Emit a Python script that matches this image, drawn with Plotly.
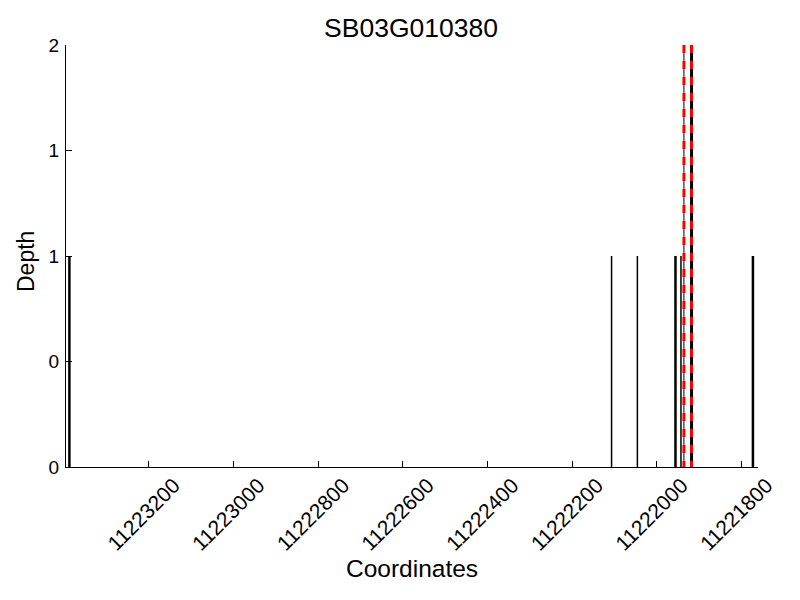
import plotly.graph_objects as go

# ---- data ----
title_text = "SB03G010380"
depth_coords = [11223388, 11222107, 11222046, 11221956, 11221943, 11221773]
depth_values = [1, 1, 1, 1, 1, 1]
thick_coords = [11223388, 11221956, 11221773]
marker_coords = [11221936, 11221918]
marker_top = 2
x_ticks = [11223200, 11223000, 11222800, 11222600, 11222400, 11222200, 11222000, 11221800]
y_ticks = [0, 0.5, 1, 1.5, 2]
y_tick_text = ["0", "0", "1", "1", "2"]
x_range = [11223396, 11221761]

FONT = "Liberation Sans, Arial, sans-serif"

# page has an 8px body margin; lay the figure out so that on-screen positions match
W, H = 792, 592
L, R, T, B = 58, 42, 37, 133
PH = H - T - B

fig = go.Figure()

# depth bars as vertical segments
for c, v in zip(depth_coords, depth_values):
    w = 2.5 if c in thick_coords else 1.5
    fig.add_trace(go.Scatter(x=[c, c], y=[0, v], mode="lines",
                             line=dict(color="black", width=w),
                             showlegend=False, hoverinfo="skip"))

# marker lines: black base with red dashes on top (drawn top-down so dashes start at top)
for i, c in enumerate(marker_coords):
    bw = 1 if i == 0 else 3
    fig.add_trace(go.Scatter(x=[c, c], y=[marker_top, 0], mode="lines",
                             line=dict(color="black", width=bw),
                             showlegend=False, hoverinfo="skip"))
    fig.add_trace(go.Scatter(x=[c, c], y=[marker_top, 0], mode="lines",
                             line=dict(color="red", width=3, dash="8px,8px"),
                             showlegend=False, hoverinfo="skip"))

fig.update_layout(
    width=W, height=H,
    margin=dict(l=L, r=R, t=T, b=B, autoexpand=False),
    paper_bgcolor="white", plot_bgcolor="white",
    font=dict(family=FONT, color="black"),
    title=dict(text=title_text, x=(411 - 8) / W, xanchor="center", y=1 - 20 / H,
               yanchor="middle", font=dict(size=26.5, family=FONT, color="black")),
)

fig.update_xaxes(
    range=x_range, tickvals=x_ticks, ticktext=[str(t) for t in x_ticks],
    tickangle=-45, ticks="inside", ticklen=6, tickcolor="black",
    showline=True, linecolor="black", linewidth=1, mirror=False,
    showgrid=False, zeroline=False, tickfont=dict(size=21, family=FONT),
    ticklabelshift=-25, ticklabelstandoff=-3, automargin=False,
)
fig.update_yaxes(
    range=[0, 2], tickvals=y_ticks, ticktext=y_tick_text,
    ticks="inside", ticklen=6, tickcolor="black",
    showline=True, linecolor="black", linewidth=1, mirror=False,
    showgrid=False, zeroline=False, tickfont=dict(size=19, family=FONT),
    ticklabelstandoff=2, automargin=False,
)

fig.add_annotation(text="Coordinates", xref="paper", yref="paper",
                   x=0.5, y=-(568 - 8 - (T + PH)) / PH, xanchor="center", yanchor="middle",
                   showarrow=False, font=dict(size=24.5, family=FONT))
fig.add_annotation(text="Depth", xref="paper", yref="paper",
                   x=(26 - 8 - L) / (W - L - R), y=(T + PH - (262 - 8)) / PH, xanchor="center",
                   yanchor="middle", textangle=-90,
                   showarrow=False, font=dict(size=23, family=FONT))

fig.write_html("out.html")
